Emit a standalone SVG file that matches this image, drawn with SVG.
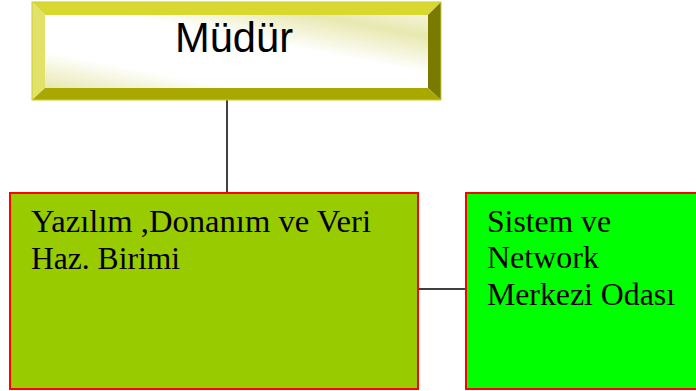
<svg xmlns="http://www.w3.org/2000/svg" width="696" height="391" viewBox="0 0 696 391">
<style>
.box{stroke:#ff0000;stroke-width:2}
.t{font-family:"Liberation Serif","Times New Roman",serif;font-size:31px;fill:#000}
.conn{stroke:#000;stroke-width:1.5;fill:none}
</style>
<defs>
<linearGradient id="face" x1="0" y1="1" x2="1" y2="0">
<stop offset="0" stop-color="#e8e8b0"/>
<stop offset="0.25" stop-color="#ffffff"/>
<stop offset="0.6" stop-color="#ffffff"/>
<stop offset="0.85" stop-color="#e8e8b0"/>
<stop offset="1" stop-color="#f4f4d8"/>
</linearGradient>
</defs>
<rect width="696" height="391" fill="#ffffff"/>
<g id="connectors">
<line class="conn" x1="227" y1="100" x2="227" y2="193"/>
<line class="conn" x1="418" y1="289" x2="466" y2="289"/>
</g>
<g id="mudur">
<polygon points="32,2 441,2 428,15 45,15" fill="#d8d830"/>
<polygon points="32,2 45,15 45,88 32,100" fill="#e2e268"/>
<polygon points="441,2 441,100 428,88 428,15" fill="#7a7a00"/>
<polygon points="32,100 45,88 428,88 441,100" fill="#a8a800"/>
<rect x="45" y="15" width="383" height="73" fill="url(#face)"/>
<rect x="32" y="2" width="409" height="98" fill="none" stroke="#cccc33" stroke-width="1"/>
<text x="234" y="52" text-anchor="middle" font-family="'Liberation Sans',Arial,sans-serif" font-size="43" textLength="118" lengthAdjust="spacingAndGlyphs" fill="#000">Müdür</text>
</g>
<g id="yazilim">
<rect class="box" x="10" y="193" width="408" height="196" fill="#99cc00"/>
<text class="t" x="31" y="232" textLength="340" lengthAdjust="spacingAndGlyphs">Yazılım ,Donanım ve Veri</text>
<text class="t" x="31" y="269" textLength="149" lengthAdjust="spacingAndGlyphs">Haz. Birimi</text>
</g>
<g id="sistem">
<rect class="box" x="466" y="193" width="240" height="196" fill="#00ff00"/>
<text class="t" x="487" y="232" textLength="124" lengthAdjust="spacingAndGlyphs">Sistem ve</text>
<text class="t" x="487" y="268" textLength="112" lengthAdjust="spacingAndGlyphs">Network</text>
<text class="t" x="487" y="305" textLength="188" lengthAdjust="spacingAndGlyphs">Merkezi Odası</text>
</g>
</svg>
